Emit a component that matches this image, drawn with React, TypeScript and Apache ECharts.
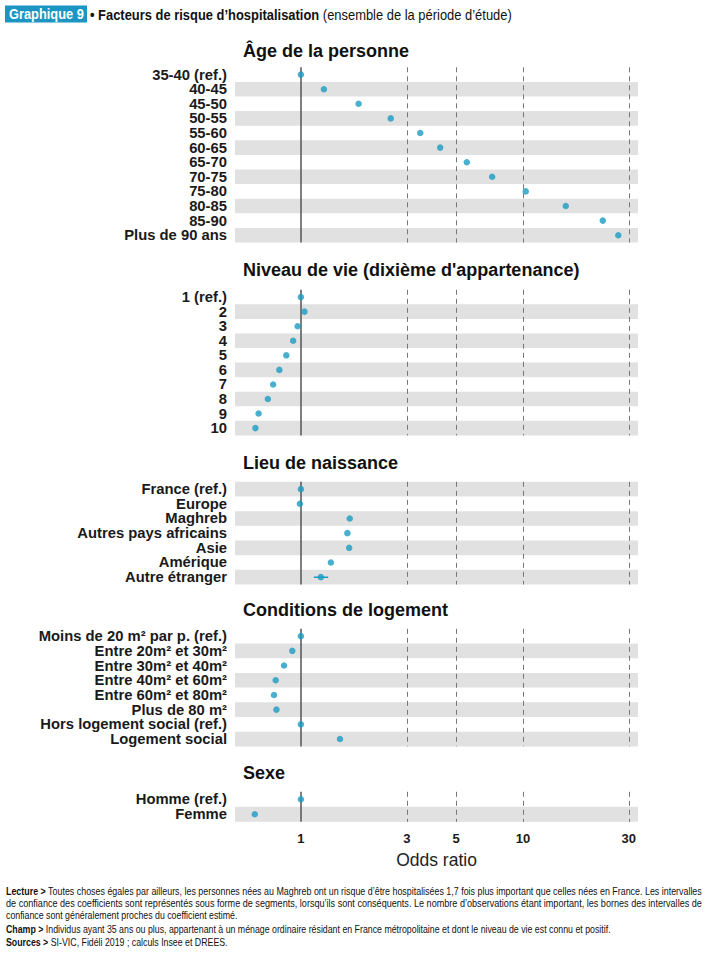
import React, { useEffect, useRef } from "react";
import * as echarts from "echarts";

// ---------- DATA ----------
const ageCategories = ["35-40 (ref.)", "40-45", "45-50", "50-55", "55-60", "60-65", "65-70", "70-75", "75-80", "80-85", "85-90", "Plus de 90 ans"];
const ageValues = [1.0, 1.27, 1.82, 2.54, 3.45, 4.24, 5.59, 7.27, 10.3, 15.6, 22.9, 26.9];

const vieCategories = ["1 (ref.)", "2", "3", "4", "5", "6", "7", "8", "9", "10"];
const vieValues = [1.0, 1.038, 0.967, 0.923, 0.86, 0.8, 0.75, 0.71, 0.645, 0.624];

const naissanceCategories = ["France (ref.)", "Europe", "Maghreb", "Autres pays africains", "Asie", "Amérique", "Autre étranger"];
const naissanceValues = [1.0, 0.99, 1.66, 1.62, 1.65, 1.365, 1.23];
const naissanceCILow = [null, null, null, null, null, null, 1.144];
const naissanceCIHigh = [null, null, null, null, null, null, 1.327];

const logementCategories = ["Moins de 20 m² par p. (ref.)", "Entre 20m² et 30m²", "Entre 30m² et 40m²", "Entre 40m² et 60m²", "Entre 60m² et 80m²", "Plus de 80 m²", "Hors logement social (ref.)", "Logement social"];
const logementValues = [1.0, 0.915, 0.84, 0.77, 0.757, 0.776, 1.0, 1.5];

const sexeCategories = ["Homme (ref.)", "Femme"];
const sexeValues = [1.0, 0.62];

const panelTitles = ["Âge de la personne", "Niveau de vie (dixième d'appartenance)", "Lieu de naissance", "Conditions de logement", "Sexe"];
const tickValues = [1, 3, 5, 10, 30];
const refValue = 1;
const dashedValues = [3, 5, 10, 30];

const headerTag = "Graphique 9";
const headerTitle = "• Facteurs de risque d’hospitalisation";
const headerSub = " (ensemble de la période d’étude)";
const footerLines = [
  ["Lecture >", " Toutes choses égales par ailleurs, les personnes nées au Maghreb ont un risque d’être hospitalisées 1,7 fois plus important que celles nées en France. Les intervalles"],
  ["", "de confiance des coefficients sont représentés sous forme de segments, lorsqu’ils sont conséquents. Le nombre d’observations étant important, les bornes des intervalles de"],
  ["", "confiance sont généralement proches du coefficient estimé."],
  ["Champ >", " Individus ayant 35 ans ou plus, appartenant à un ménage ordinaire résidant en France métropolitaine et dont le niveau de vie est connu et positif."],
  ["Sources >", " SI-VIC, Fidéli 2019 ; calculs Insee et DREES."],
];

// ---------- LAYOUT ----------
const W = 714;
const H = 955;
const PLOT_LEFT = 235;
const PLOT_RIGHT = W - 638;
const X_MIN = 0.505;
const X_MAX = 33;
const POINT_COLOR = "#1a9bc3";
const STRIPE = "#e1e1e1";
const FONT = "'Liberation Sans', Arial, sans-serif";

const panels = [
  { cats: ageCategories, vals: ageValues, top: 67.3, rowH: 14.6, titleY: 52 },
  { cats: vieCategories, vals: vieValues, top: 289.8, rowH: 14.56, titleY: 271 },
  { cats: naissanceCategories, vals: naissanceValues, top: 481.8, rowH: 14.67, titleY: 464 },
  { cats: logementCategories, vals: logementValues, top: 628.8, rowH: 14.7, titleY: 611 },
  { cats: sexeCategories, vals: sexeValues, top: 791.8, rowH: 15, titleY: 774 },
];

function measure(font: string, s: string): number {
  const c = document.createElement("canvas").getContext("2d");
  if (!c) return s.length * 5;
  c.font = font;
  return c.measureText(s).width;
}

export default function App() {
  const ref = useRef<HTMLDivElement>(null);
  useEffect(() => {
    if (!ref.current) return;
    const chart = echarts.init(ref.current, undefined, { renderer: "svg" });

    const grids: any[] = [];
    const xAxes: any[] = [];
    const yAxes: any[] = [];
    const series: any[] = [];
    const graphics: any[] = [];

    panels.forEach((p, i) => {
      const n = p.cats.length;
      const isLast = i === panels.length - 1;
      grids.push({ left: PLOT_LEFT, right: PLOT_RIGHT, top: p.top, height: p.rowH * n });
      xAxes.push({
        type: "log",
        gridIndex: i,
        min: X_MIN,
        max: X_MAX,
        axisLine: { show: false },
        axisTick: { show: false },
        splitLine: { show: false },
        axisLabel: isLast
          ? {
              show: true,
              customValues: tickValues,
              formatter: (v: number) => String(Math.round(v)),
              fontFamily: FONT,
              fontWeight: "bold",
              fontSize: 13,
              color: "#1a1a1a",
              margin: 10,
            }
          : { show: false },
        name: isLast ? "Odds ratio" : "",
        nameLocation: "middle",
        nameGap: 29,
        nameTextStyle: { fontFamily: FONT, fontSize: 17.5, color: "#222" },
      });
      // stripes: last row grey, alternating upward
      const firstGrey = (n - 1) % 2 === 0;
      yAxes.push({
        type: "category",
        gridIndex: i,
        data: p.cats,
        inverse: true,
        axisLine: { show: false },
        axisTick: { show: false },
        splitLine: { show: false },
        splitArea: {
          show: true,
          areaStyle: { color: firstGrey ? [STRIPE, "rgba(255,255,255,0)"] : ["rgba(255,255,255,0)", STRIPE] },
        },
        axisLabel: {
          fontFamily: FONT,
          fontWeight: "bold",
          fontSize: 14.8,
          color: "#1a1a1a",
          margin: 8,
          interval: 0,
        },
      });
      series.push({
        type: "scatter",
        xAxisIndex: i,
        yAxisIndex: i,
        symbol: "circle",
        symbolSize: 6.5,
        itemStyle: { color: POINT_COLOR },
        z: 5,
        data: p.vals.map((v, k) => [v, p.cats[k]]),
        markLine: {
          silent: true,
          symbol: ["none", "none"],
          label: { show: false },
          data: [
            { xAxis: refValue, lineStyle: { color: "#555", width: 1.5, type: "solid" } },
            ...dashedValues.map((v) => ({ xAxis: v, lineStyle: { color: "#777", width: 1, type: [5, 4] } })),
          ],
          z: 3,
        },
      });
      graphics.push({
        type: "text",
        left: 243,
        top: p.titleY - 10,
        style: { text: panelTitles[i], font: `bold 18px ${FONT}`, fill: "#111" },
      });
    });

    // confidence intervals (lieu de naissance)
    naissanceCILow.forEach((lo, k) => {
      const hi = naissanceCIHigh[k];
      if (lo == null || hi == null) return;
      series.push({
        type: "line",
        xAxisIndex: 2,
        yAxisIndex: 2,
        showSymbol: false,
        symbol: "none",
        lineStyle: { color: POINT_COLOR, width: 1.5 },
        z: 4,
        data: [
          [lo, naissanceCategories[k]],
          [hi, naissanceCategories[k]],
        ],
      });
    });

    // header
    const tagFont = `bold 14px ${FONT}`;
    const tagScale = 75 / measure(tagFont, headerTag);
    graphics.push({
      type: "rect",
      shape: { x: 5, y: 5.5, width: 82, height: 17 },
      style: { fill: "#1a95c4" },
    });
    graphics.push({
      type: "text",
      x: 9,
      y: 14.5,
      scaleX: tagScale,
      style: { text: headerTag, font: tagFont, fill: "#fff", verticalAlign: "middle" },
    });
    const hbFont = `bold 14px ${FONT}`;
    const hnFont = `14px ${FONT}`;
    const hScale = 422 / (measure(hbFont, headerTitle) + measure(hnFont, headerSub));
    graphics.push({
      type: "text",
      x: 90,
      y: 15,
      scaleX: hScale,
      style: {
        text: `{b|${headerTitle}}{n|${headerSub}}`,
        verticalAlign: "middle",
        rich: {
          b: { font: hbFont, fill: "#111" },
          n: { font: hnFont, fill: "#111" },
        },
      },
    });

    // footer
    const fbFont = `bold 10px ${FONT}`;
    const fnFont = `10px ${FONT}`;
    const footerY = [891, 903, 915, 929, 942];
    const justify = [true, true, false, false, false];
    footerLines.forEach((ln, k) => {
      const w = (ln[0] ? measure(fbFont, ln[0]) : 0) + measure(fnFont, ln[1]);
      const sc = justify[k] ? 697 / w : 0.88;
      graphics.push({
        type: "text",
        x: 6,
        y: footerY[k],
        scaleX: sc,
        style: {
          text: ln[0] ? `{b|${ln[0]}}{n|${ln[1]}}` : `{n|${ln[1]}}`,
          verticalAlign: "middle",
          rich: {
            b: { font: fbFont, fill: "#111" },
            n: { font: fnFont, fill: "#111" },
          },
        },
      });
    });

    chart.setOption({
      animation: false,
      backgroundColor: "#fff",
      grid: grids,
      xAxis: xAxes,
      yAxis: yAxes,
      series,
      graphic: graphics,
    });
    return () => chart.dispose();
  }, []);

  return (
    <div
      ref={ref}
      style={{ position: "fixed", left: 0, top: 0, width: W, height: H }}
    />
  );
}
